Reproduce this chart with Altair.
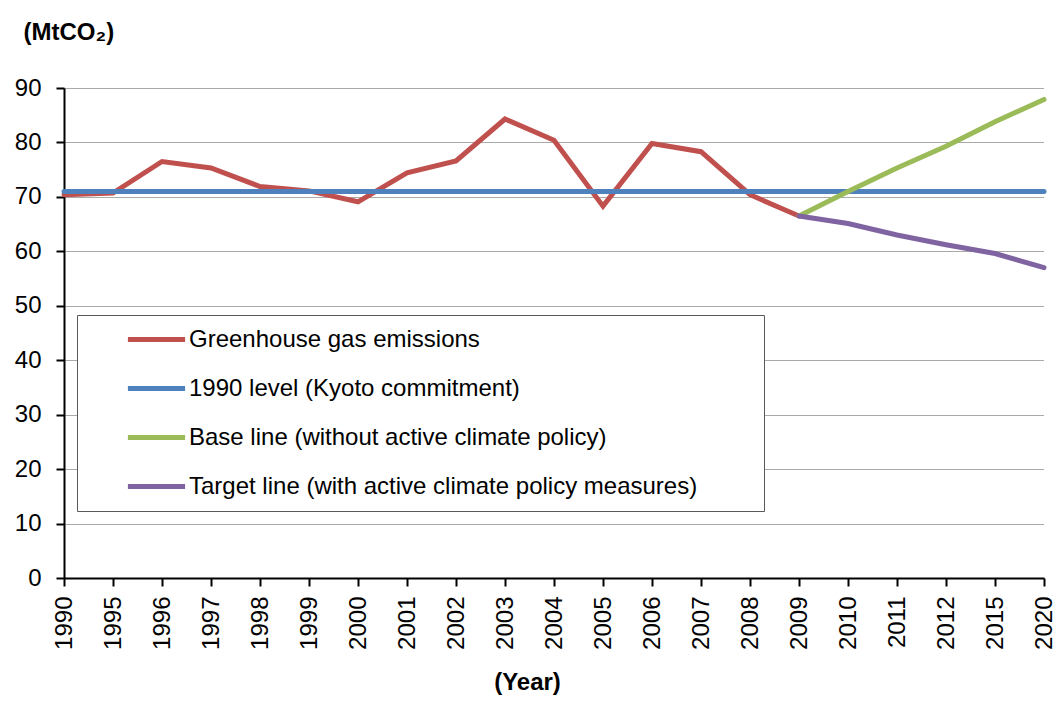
import altair as alt
import pandas as pd

# Year categories on the horizontal axis (uneven spacing after 2012)
years = ["1990", "1995", "1996", "1997", "1998", "1999", "2000", "2001",
         "2002", "2003", "2004", "2005", "2006", "2007", "2008", "2009",
         "2010", "2011", "2012", "2015", "2020"]

# Measured greenhouse gas emissions, 1990-2009 (MtCO2)
emission_years = years[:16]
emissions = [70.4, 70.7, 76.5, 75.3, 71.9, 71.1, 69.1, 74.4,
             76.6, 84.3, 80.4, 68.3, 79.8, 78.3, 70.4, 66.5]

# 1990 reference level (Kyoto commitment)
kyoto_level = 71.0

# Projections from 2009 onward
projection_years = ["2009", "2010", "2011", "2012", "2015", "2020"]
base_line = [66.5, 71.0, 75.3, 79.3, 83.8, 87.9]
target_line = [66.5, 65.1, 63.0, 61.2, 59.6, 57.0]

series_names = [
    "Greenhouse gas emissions",
    "1990 level (Kyoto commitment)",
    "Base line (without active climate policy)",
    "Target line (with active climate policy measures)",
]
series_colors = ["#C0504D", "#4F81BD", "#9BBB59", "#8064A2"]

rows = []
rows += [{"year": y, "value": v, "series": series_names[0]} for y, v in zip(emission_years, emissions)]
rows += [{"year": y, "value": kyoto_level, "series": series_names[1]} for y in years]
rows += [{"year": y, "value": v, "series": series_names[2]} for y, v in zip(projection_years, base_line)]
rows += [{"year": y, "value": v, "series": series_names[3]} for y, v in zip(projection_years, target_line)]
df = pd.DataFrame(rows)

FONT = "Liberation Sans"

x_enc = alt.X(
    "year:O",
    sort=years,
    scale=alt.Scale(type="point", padding=0),
    axis=alt.Axis(
        title="(Year)",
        titleFont=FONT, titleFontSize=24, titleFontWeight="bold", titleColor="black",
        titleX=463, titleY=104, titleAlign="center", titleBaseline="middle",
        labelAngle=-90, labelAlign="right", labelBaseline="middle",
        labelFont=FONT, labelFontSize=24, labelColor="black", labelPadding=10,
        domainColor="black", domainWidth=2,
        tickColor="black", tickWidth=2, tickSize=8,
        grid=False,
    ),
)

y_enc = alt.Y(
    "value:Q",
    scale=alt.Scale(domain=[0, 90], nice=False, zero=True),
    axis=alt.Axis(
        title="(MtCO₂)",
        titleAngle=0, titleFont=FONT, titleFontSize=24, titleFontWeight="bold",
        titleColor="black", titleX=-41, titleY=-56,
        titleAlign="left", titleBaseline="middle",
        values=list(range(0, 91, 10)),
        labelFont=FONT, labelFontSize=24, labelColor="black", labelPadding=15,
        domainColor="black", domainWidth=2,
        tickColor="black", tickWidth=2, tickSize=8,
        grid=True, gridColor="#555555", gridWidth=1, gridDash=[1, 1],
    ),
)

# The legend title is kept invisible: it only reserves the empty margin
# on the right of the entries and below the last one inside the frame.
color_enc = alt.Color(
    "series:N",
    scale=alt.Scale(domain=series_names, range=series_colors),
    legend=alt.Legend(
        title=["x", "x", "x", "x", "x"], titleOrient="right", titlePadding=53,
        titleFontSize=24, titleLineHeight=43, titleOpacity=0,
        titleBaseline="top", titleAnchor="start",
        orient="none", legendX=13, legendY=227,
        padding=0, rowPadding=12,
        fillColor="white", strokeColor="#595959",
        labelFont=FONT, labelFontSize=24, labelColor="black", labelLimit=800,
        symbolType="M-1.3,0L1.3,0", symbolSize=1936, symbolStrokeWidth=5,
        symbolOffset=55, labelOffset=8,
    ),
)

# One layer per series so later series draw on top of earlier ones
layers = [
    alt.Chart(df)
    .transform_filter(alt.datum.series == name)
    .mark_line(strokeWidth=5, strokeCap="round", strokeJoin="miter")
    .encode(x=x_enc, y=y_enc, color=color_enc)
    for name in series_names
]

chart = (
    alt.layer(*layers)
    .properties(
        width=980,
        height=490,
        autosize="none",
        padding={"left": 64, "top": 88, "right": 13, "bottom": 131},
        background="white",
    )
    .configure_view(stroke=None)
)

chart.save("out.html", embed_options={"renderer": "svg", "actions": False})
